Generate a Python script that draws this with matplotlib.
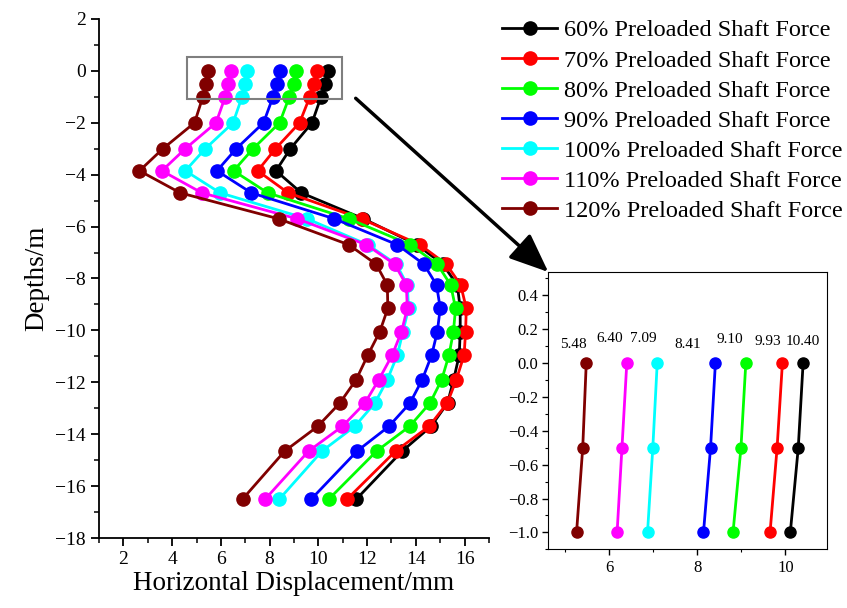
import matplotlib
matplotlib.use("Agg")
import matplotlib.pyplot as plt
import matplotlib.patches as patches
from matplotlib.ticker import MultipleLocator, FuncFormatter

plt.rcParams['font.family'] = ['Liberation Serif', 'DejaVu Serif']
plt.rcParams['mathtext.fontset'] = 'stix'

# 深度 (m)
depth = [0, -0.5, -1, -2, -3, -3.85, -4.7, -5.7, -6.7, -7.45, -8.25, -9.15,
         -10.05, -10.95, -11.9, -12.8, -13.7, -14.65, -16.5]

# 各预紧轴力下的水平位移 (mm)
disp_60 = [10.40, 10.29, 10.11, 9.74, 8.85, 8.26, 9.30, 11.85, 14.05, 15.10,
           15.70, 15.82, 15.82, 15.78, 15.55, 15.30, 14.62, 13.44, 11.56]
disp_70 = [9.93, 9.81, 9.65, 9.23, 8.24, 7.51, 8.76, 11.77, 14.17, 15.25,
           15.84, 16.07, 16.04, 15.98, 15.66, 15.29, 14.54, 13.17, 11.18]
disp_80 = [9.10, 8.99, 8.81, 8.41, 7.32, 6.52, 7.92, 11.25, 13.78, 14.88,
           15.43, 15.63, 15.54, 15.36, 15.06, 14.58, 13.74, 12.39, 10.43]
disp_90 = [8.41, 8.30, 8.14, 7.75, 6.63, 5.84, 7.25, 10.66, 13.24, 14.33,
           14.85, 15.00, 14.88, 14.65, 14.26, 13.76, 12.89, 11.59, 9.71]
disp_100 = [7.09, 6.99, 6.87, 6.50, 5.36, 4.54, 5.97, 9.54, 12.03, 13.20,
            13.65, 13.70, 13.47, 13.24, 12.83, 12.32, 11.49, 10.15, 8.40]
disp_110 = [6.40, 6.29, 6.18, 5.80, 4.54, 3.58, 5.22, 9.13, 11.97, 13.13,
            13.61, 13.65, 13.41, 13.03, 12.48, 11.91, 10.98, 9.60, 7.82]
disp_120 = [5.48, 5.40, 5.26, 4.92, 3.62, 2.66, 4.33, 8.37, 11.25, 12.37,
            12.83, 12.85, 12.52, 12.03, 11.55, 10.88, 9.97, 8.62, 6.89]

labels = ['60% Preloaded Shaft Force', '70% Preloaded Shaft Force',
          '80% Preloaded Shaft Force', '90% Preloaded Shaft Force',
          '100% Preloaded Shaft Force', '110% Preloaded Shaft Force',
          '120% Preloaded Shaft Force']
series = [disp_60, disp_70, disp_80, disp_90, disp_100, disp_110, disp_120]
colors = ['#000000', '#ff0000', '#00ff00', '#0000ff', '#00ffff', '#ff00ff', '#800000']

# 局部放大图中的数值标注
top_text = ['10.40', '9.93', '9.10', '8.41', '7.09', '6.40', '5.48']
text_dx = [-0.01, -0.32, -0.36, -0.62, -0.32, -0.38, -0.29]
text_y = [0.13, 0.13, 0.14, 0.11, 0.145, 0.145, 0.11]

fig = plt.figure(figsize=(8.47, 6.08), dpi=100)
ax = fig.add_axes([0.1169, 0.1151, 0.4604, 0.8537])

lines = []
for d, c, lab in zip(series, colors, labels):
    ln, = ax.plot(d, depth, '-o', color=c, lw=2, ms=9.5, label=lab)
    lines.append(ln)

ax.set_xlim(1, 17)
ax.set_ylim(-18, 2)
ax.xaxis.set_major_locator(MultipleLocator(2))
ax.xaxis.set_minor_locator(MultipleLocator(1))
ax.yaxis.set_major_locator(MultipleLocator(2))
ax.yaxis.set_minor_locator(MultipleLocator(1))
ax.spines['top'].set_visible(False)
ax.spines['right'].set_visible(False)
for s in ['left', 'bottom']:
    ax.spines[s].set_linewidth(1.3)
ax.tick_params(which='major', direction='out', length=6, width=1.3, labelsize=14)
ax.tick_params(which='minor', direction='out', length=3.5, width=1.1)
ax.set_xlabel('Horizontal Displacement/mm', fontsize=19.5, labelpad=2)
ax.set_ylabel('Depths/m', fontsize=19.5, labelpad=4)

# 放大区域的框
rect = patches.Rectangle((4.62, -1.1), 10.95 - 4.62, 0.54 + 1.1, fill=False,
                         ec='#7f7f7f', lw=1.5, zorder=5)
ax.add_patch(rect)

# 局部放大图
axin = fig.add_axes([0.6474, 0.0965, 0.3294, 0.4566])
for d, c in zip(series, colors):
    axin.plot(d[:3], depth[:3], '-o', color=c, lw=2, ms=8)
for d, t, dx, ty in zip(series, top_text, text_dx, text_y):
    axin.text(d[0] + dx, ty, t, fontsize=11, ha='center', va='center')
axin.set_xlim(4.62, 10.95)
axin.set_ylim(-1.1, 0.54)
axin.xaxis.set_major_locator(MultipleLocator(2))
axin.xaxis.set_minor_locator(MultipleLocator(1))
axin.yaxis.set_minor_locator(MultipleLocator(0.1))
axin.set_yticks([0.4, 0.2, 0.0, -0.2, -0.4, -0.6, -0.8, -1.0])
axin.yaxis.set_major_formatter(FuncFormatter(lambda v, p: f'{v:.1f}'.replace('-', '\u2212')))
axin.tick_params(which='major', direction='out', length=4, width=1, labelsize=12)
axin.tick_params(which='minor', direction='out', length=2, width=0.8)

# 箭头
fig.add_artist(patches.FancyArrowPatch((355.7 / 847, 1 - 98.3 / 608), (548.3 / 847, 1 - 272.0 / 608),
                                       transform=fig.transFigure, arrowstyle='-|>,head_length=1.2,head_width=0.5',
                                       mutation_scale=20, lw=2.5, color='black', shrinkA=0, shrinkB=0))

fig.legend(handles=lines, loc='upper left', bbox_to_anchor=(0.593, 0.968), frameon=False,
           fontsize=17.5, handlelength=2.25, handletextpad=0.3, labelspacing=0.33,
           borderpad=0, borderaxespad=0)

fig.savefig('out.png', dpi=100)
